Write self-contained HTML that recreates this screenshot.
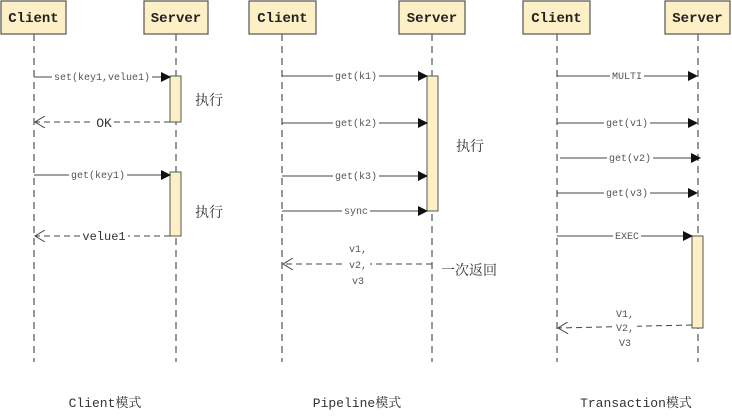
<!DOCTYPE html>
<html><head><meta charset="utf-8"><style>
html,body{margin:0;padding:0;background:#fff;width:732px;height:416px;overflow:hidden}
svg text{font-family:"Liberation Mono","Noto Serif CJK SC",monospace}
.lbl{font-size:10px;fill:#555;text-anchor:middle}
.bg{fill:#fff}
.box{fill:#fdefc6;stroke:#555;stroke-width:1.2}
.hd{font-size:14px;font-weight:bold;fill:#222;text-anchor:middle}
.life{stroke:#555;stroke-width:1.2;stroke-dasharray:7,5}
.msg{stroke:#444;stroke-width:1}
.ret{stroke:#444;stroke-width:1;stroke-dasharray:6,4;fill:none}
.act{fill:#fdefc6;stroke:#555;stroke-width:1}
.cn{font-size:14px;fill:#333}
.cap{font-size:13px;fill:#333;text-anchor:middle}
</style></head><body>
<svg width="732" height="416" xmlns="http://www.w3.org/2000/svg">
<defs>
<marker id="a" markerWidth="10" markerHeight="10" refX="9" refY="5" orient="auto" markerUnits="userSpaceOnUse"><path d="M0,0 L10,5 L0,10 z" fill="#111"/></marker>
<marker id="o" markerWidth="12" markerHeight="12" refX="11" refY="6" orient="auto" markerUnits="userSpaceOnUse"><path d="M1,0 L11,6 L1,12" fill="none" stroke="#444" stroke-width="1"/></marker>
</defs>
<line class="life" x1="34" y1="34" x2="34" y2="362"/>
<line class="life" x1="176" y1="34" x2="176" y2="362"/>
<line class="life" x1="282" y1="34" x2="282" y2="362"/>
<line class="life" x1="432" y1="34" x2="432" y2="362"/>
<line class="life" x1="557" y1="34" x2="557" y2="362"/>
<line class="life" x1="698" y1="34" x2="698" y2="362"/>
<rect class="box" x="1" y="1" width="65" height="33"/><text class="hd" x="33.5" y="22">Client</text>
<rect class="box" x="144" y="1" width="64" height="33"/><text class="hd" x="176" y="22">Server</text>
<rect class="box" x="249" y="1" width="67" height="33"/><text class="hd" x="282.5" y="22">Client</text>
<rect class="box" x="399" y="1" width="66" height="33"/><text class="hd" x="432" y="22">Server</text>
<rect class="box" x="523" y="1" width="67" height="33"/><text class="hd" x="556.5" y="22">Client</text>
<rect class="box" x="665" y="1" width="65" height="33"/><text class="hd" x="697.5" y="22">Server</text>

<rect class="act" x="170" y="76" width="11" height="46"/>
<rect class="act" x="170" y="172" width="11" height="64"/>
<line class="msg" x1="34" y1="77" x2="170" y2="77" marker-end="url(#a)"/>
<rect class="bg" x="52" y="71" width="100" height="12"/><text class="lbl" x="102" y="80">set(key1,velue1)</text>
<line class="ret" x1="170" y1="122" x2="35" y2="122" marker-end="url(#o)"/>
<rect class="bg" x="94" y="115" width="20" height="14"/><text class="lbl" x="104" y="127" style="font-size:13px;fill:#333">OK</text>
<line class="msg" x1="34" y1="175" x2="170" y2="175" marker-end="url(#a)"/>
<rect class="bg" x="69" y="169" width="58" height="12"/><text class="lbl" x="98" y="178">get(key1)</text>
<line class="ret" x1="170" y1="236" x2="35" y2="236" marker-end="url(#o)"/>
<rect class="bg" x="80" y="229" width="48" height="14"/><text class="lbl" x="104" y="240" style="font-size:12px;fill:#333">velue1</text>
<text class="cn" x="195" y="105">执行</text>
<text class="cn" x="195" y="217">执行</text>

<rect class="act" x="427" y="76" width="11" height="135"/>
<line class="msg" x1="282" y1="76" x2="427" y2="76" marker-end="url(#a)"/>
<rect class="bg" x="333" y="70" width="46" height="12"/><text class="lbl" x="356" y="79">get(k1)</text>
<line class="msg" x1="282" y1="123" x2="427" y2="123" marker-end="url(#a)"/>
<rect class="bg" x="333" y="117" width="46" height="12"/><text class="lbl" x="356" y="126">get(k2)</text>
<line class="msg" x1="282" y1="176" x2="427" y2="176" marker-end="url(#a)"/>
<rect class="bg" x="333" y="170" width="46" height="12"/><text class="lbl" x="356" y="179">get(k3)</text>
<line class="msg" x1="282" y1="211" x2="427" y2="211" marker-end="url(#a)"/>
<rect class="bg" x="342" y="205" width="28" height="12"/><text class="lbl" x="356" y="214">sync</text>
<line class="ret" x1="432" y1="264" x2="283" y2="264" marker-end="url(#o)"/>
<rect class="bg" x="346" y="258" width="24" height="12"/>
<text class="lbl" x="358" y="252">v1,</text><text class="lbl" x="358" y="268">v2,</text><text class="lbl" x="358" y="284">v3</text>
<text class="cn" x="456" y="151">执行</text>
<text class="cn" x="441" y="275">一次返回</text>

<rect class="act" x="692" y="236" width="11" height="92"/>
<line class="msg" x1="557" y1="76" x2="697" y2="76" marker-end="url(#a)"/>
<rect class="bg" x="610" y="70" width="34" height="12"/><text class="lbl" x="627" y="79">MULTI</text>
<line class="msg" x1="557" y1="123" x2="697" y2="123" marker-end="url(#a)"/>
<rect class="bg" x="604" y="117" width="46" height="12"/><text class="lbl" x="627" y="126">get(v1)</text>
<line class="msg" x1="560" y1="158" x2="700" y2="158" marker-end="url(#a)"/>
<rect class="bg" x="607" y="152" width="46" height="12"/><text class="lbl" x="630" y="161">get(v2)</text>
<line class="msg" x1="557" y1="193" x2="697" y2="193" marker-end="url(#a)"/>
<rect class="bg" x="604" y="187" width="46" height="12"/><text class="lbl" x="627" y="196">get(v3)</text>
<line class="msg" x1="557" y1="236" x2="692" y2="236" marker-end="url(#a)"/>
<rect class="bg" x="613" y="230" width="28" height="12"/><text class="lbl" x="627" y="239">EXEC</text>
<line class="ret" x1="692" y1="325" x2="558" y2="328" marker-end="url(#o)"/>
<rect class="bg" x="613" y="320" width="24" height="13"/>
<text class="lbl" x="625" y="317">V1,</text><text class="lbl" x="625" y="331">V2,</text><text class="lbl" x="625" y="346">V3</text>

<text class="cap" x="105" y="407">Client模式</text>
<text class="cap" x="357" y="407">Pipeline模式</text>
<text class="cap" x="636" y="407">Transaction模式</text>
</svg>
</body></html>
